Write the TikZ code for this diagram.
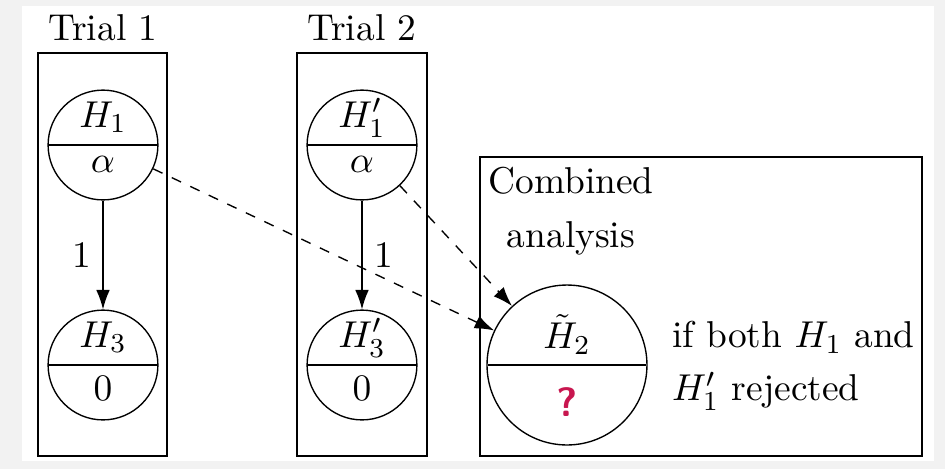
\documentclass[tikz,border=0pt]{standalone}
\usepackage{amsmath,amssymb}
\usetikzlibrary{arrows.meta,shapes.multipart}
\definecolor{qred}{RGB}{200,22,79}
\definecolor{bggray}{RGB}{242,242,242}
\newcommand{\zw}[1]{\makebox[0pt]{\raisebox{0pt}[7.5pt][2pt]{#1}}}
\newcommand{\zl}[1]{\makebox[0pt]{#1}}
\tikzset{
 every node/.style={font=\fontsize{10.95}{13.6}\selectfont},
 hyp/.style={circle split,draw,minimum size=1.13cm,inner sep=3pt},
 bighyp/.style={circle split,draw,minimum size=1.646cm,inner sep=3pt}
}

\begin{document}
\begin{tikzpicture}[x=0.1029cm,y=-0.1029cm,>={Latex[length=2mm,width=1.4mm]}]
\useasboundingbox (0,0) rectangle (94.5,46.9);
\fill[bggray] (0,0) rectangle (94.5,46.9);
\fill[white] (2.2,0.6) rectangle (93.4,46.1);
% trial boxes
\draw (3.8,5.3) rectangle (16.7,45.6);
\node (t1) at (10.3,2.8) {Trial 1};
\draw (29.7,5.3) rectangle (42.7,45.6);
\node (t2) at (36.2,2.8) {Trial 2};
\draw (48.0,15.7) rectangle (92.2,45.6);
\node[align=center] (comb) at (57.1,21.1) {Combined\\[2pt]analysis};
% hypotheses
\node[hyp] (h1) at (10.3,14.5) {\zw{$H_1$}\nodepart{lower}\zl{$\alpha$}};
\node[hyp] (h3) at (10.3,36.5) {\zw{$H_3$}\nodepart{lower}\zl{$0$}};
\node[hyp] (h1p) at (36.2,14.5) {\zw{$H_1'$}\nodepart{lower}\zl{$\alpha$}};
\node[hyp] (h3p) at (36.2,36.5) {\zw{$H_3'$}\nodepart{lower}\zl{$0$}};
\node[bighyp] (h2) at (56.7,36.5) {$\tilde{H}_2$\nodepart{lower}\raisebox{0pt}[2.5ex][0pt]{\textcolor{qred}{\sffamily\bfseries\large ?}}};
\node[align=left,anchor=west] (cond) at (66.0,36.6) {if both $H_1$ and\\[2pt]$H_1'$ rejected};
% arrows
\draw[->] (h1) -- node[left]{1} (h3);
\draw[->] (h1p) -- node[right]{1} (h3p);
\draw[->,dashed] (h1) -- (h2);
\draw[->,dashed] (h1p) -- (h2);
\end{tikzpicture}
\end{document}
